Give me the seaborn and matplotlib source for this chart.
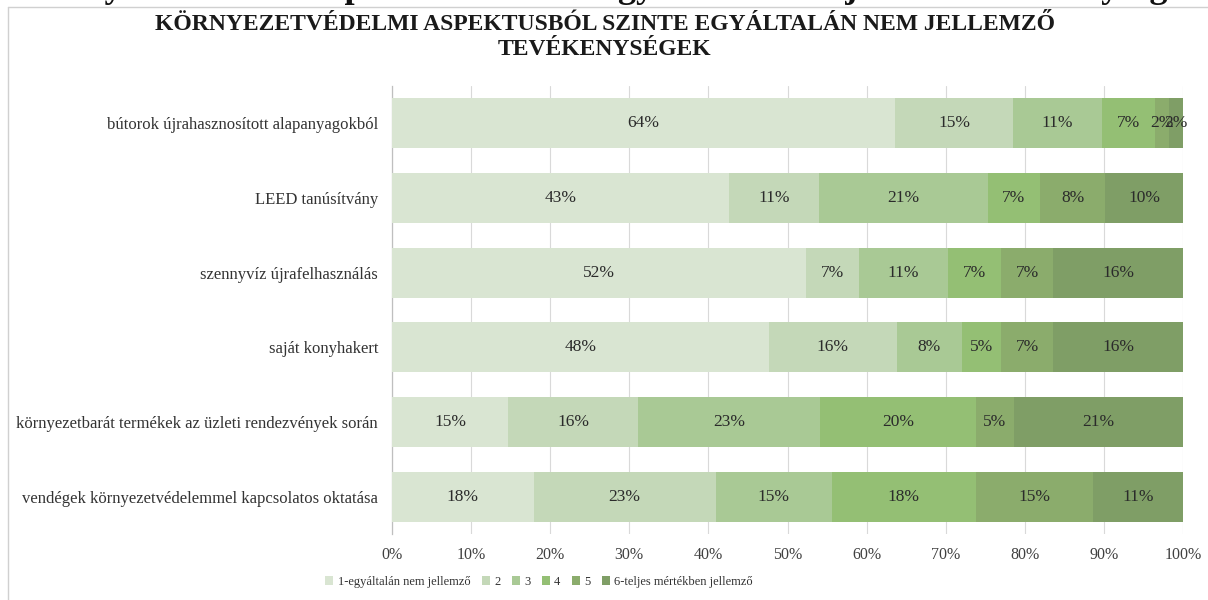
import matplotlib
matplotlib.use("Agg")
import matplotlib.pyplot as plt
import matplotlib.lines as mlines
from matplotlib.patches import Patch
import seaborn as sns
import numpy as np
import pandas as pd

categories = [
    "bútorok újrahasznosított alapanyagokból",
    "LEED tanúsítvány",
    "szennyvíz újrafelhasználás",
    "saját konyhakert",
    "környezetbarát termékek az üzleti rendezvények során",
    "vendégek környezetvédelemmel kapcsolatos oktatása",
]
series_names = ["1-egyáltalán nem jellemző", "2", "3", "4", "5", "6-teljes mértékben jellemző"]
s1 = [63.6, 42.6, 52.4, 47.6, 14.7, 17.9]
s2 = [14.9, 11.4, 6.6, 16.2, 16.4, 23.0]
s3 = [11.3, 21.3, 11.3, 8.2, 23.0, 14.7]
s4 = [6.6, 6.6, 6.7, 5.0, 19.7, 18.2]
s5 = [1.8, 8.3, 6.6, 6.6, 4.8, 14.8]
s6 = [1.8, 9.8, 16.4, 16.4, 21.4, 11.4]
tick_labels = ["0%", "10%", "20%", "30%", "40%", "50%", "60%", "70%", "80%", "90%", "100%"]
title_text = "KÖRNYEZETVÉDELMI ASPEKTUSBÓL SZINTE EGYÁLTALÁN NEM JELLEMZŐ\nTEVÉKENYSÉGEK"
clipped_text = "A környezetvédelmi aspektusból szinte egyáltalán nem jellemző tevékenységek"

colors = ["#d9e5d2", "#c4d8b8", "#a9c995", "#94bf74", "#8bac6c", "#7f9e66"]

sns.set_theme(style="white")
plt.rcParams["font.family"] = ["Liberation Serif", "DejaVu Serif"]

series = [s1, s2, s3, s4, s5, s6]
vals = np.array(series)
cum = np.cumsum(vals, axis=0)

fig = plt.figure(figsize=(12.08, 6.0), dpi=100)
ax = fig.add_axes([392 / 1208, 1 - 534.4 / 600, (1183 - 392) / 1208, (534.4 - 85.6) / 600])

# draw from the full stack down so each segment shows its own colour
for i in range(len(series) - 1, -1, -1):
    df = pd.DataFrame({"cat": categories, "end": cum[i]})
    sns.barplot(data=df, x="end", y="cat", orient="h", color=colors[i],
                width=0.67, saturation=1, ax=ax, linewidth=0, zorder=3)

# labels
for i in range(len(series)):
    for j in range(len(categories)):
        v = vals[i, j]
        start = cum[i, j] - v
        ax.text(start + v / 2, j, f"{int(round(v))}%", ha="center", va="center",
                fontsize=12.5, color="#2b2b2b", zorder=5)

ax.set_xlim(0, 100)
ax.set_ylim(len(categories) - 0.5, -0.5)
ax.set_xticks(np.arange(0, 101, 10))
ax.set_xticklabels(tick_labels, fontsize=11.5, color="#404040")
ax.tick_params(axis="x", length=0, pad=9)
ax.tick_params(axis="y", length=0, pad=10, labelsize=12, labelcolor="#333333")
ax.set_xlabel("")
ax.set_ylabel("")
ax.grid(axis="x", color="#d9d9d9", linewidth=0.8, zorder=0)
ax.set_axisbelow(True)
for sp in ["top", "right", "bottom"]:
    ax.spines[sp].set_visible(False)
ax.spines["left"].set_color("#bfbfbf")
ax.spines["left"].set_linewidth(0.9)

handles = [Patch(facecolor=c, edgecolor="none") for c in colors]
fig.legend(handles, series_names, loc="center", bbox_to_anchor=(539 / 1208, 1 - 582 / 600),
           ncol=6, frameon=False, fontsize=9, handlelength=0.65, handleheight=0.65,
           handletextpad=0.35, columnspacing=0.9, labelcolor="#333333")

fig.text(605 / 1208, 1 - 37 / 600, title_text, ha="center", va="center",
         fontsize=17, fontweight="bold", color="#1a1a1a", linespacing=1.2)

# clipped text from the page above the chart
fig.text(600 / 1208, 1 + 3 / 600, clipped_text, ha="center", va="baseline",
         fontsize=26, fontweight="bold", color="#111111")

# screenshot border lines
fig.add_artist(mlines.Line2D([8 / 1208, 8 / 1208], [0, 1 - 7 / 600], color="#d0d0d0", lw=1))
fig.add_artist(mlines.Line2D([8 / 1208, 1], [1 - 7 / 600, 1 - 7 / 600], color="#d0d0d0", lw=1))

fig.savefig("out.png", dpi=100, facecolor="white")
